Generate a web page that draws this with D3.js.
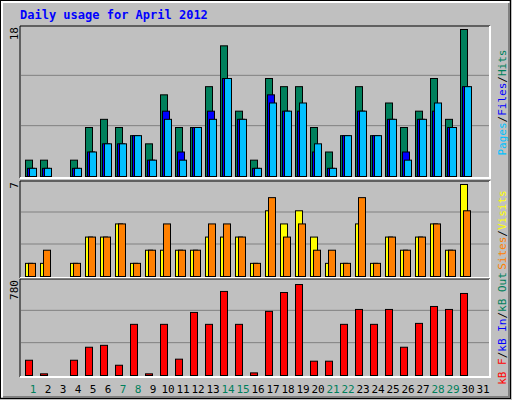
<!DOCTYPE html>
<html><head><meta charset="utf-8">
<script src="https://cdn.jsdelivr.net/npm/d3@7"></script>
<style>body{margin:0;background:#fff}</style>
</head><body>
<script>
// values
var days = d3.range(1, 32)
var weekend = [1, 7, 8, 14, 15, 21, 22, 28, 29]
var hits  = [2,2,0,2,6,7,6,5,4,10,6,6,11,16,8,2,12,11,11,6,3,5,11,5,9,6,8,12,7,18,0]
var files = [1,1,0,1,3,4,4,5,2,8,3,6,8,12,7,1,10,8,8,3,1,5,8,5,7,3,7,8,6,11,0]
var pages = [1,1,0,1,3,4,4,5,2,7,2,6,7,12,7,1,9,8,9,4,1,5,8,5,7,2,7,9,6,11,0]
var visits = [1,1,0,1,3,3,4,1,2,2,2,2,3,3,3,1,5,4,5,3,1,1,4,1,3,2,3,4,2,7,0]
var sites  = [1,2,0,1,3,3,4,1,2,4,2,2,4,4,3,1,6,3,4,2,2,1,6,1,3,2,3,4,2,5,0]
var kbytes = [128,14,0,128,237,253,86,429,14,429,137,529,429,705,429,22,538,696,763,120,120,429,554,429,554,237,437,579,554,688,0]

var svg = d3.select("body").append("svg").attr("width", 512).attr("height", 400)
  .style("font-family", "'DejaVu Sans Mono', monospace").style("font-size", "11px")

svg.append("rect").attr("width", 512).attr("height", 400).attr("fill", "#c0c0c0")
svg.append("rect").attr("x", 0.5).attr("y", 0.5).attr("width", 510).attr("height", 398)
   .attr("fill", "none").attr("stroke", "#000")
svg.append("path").attr("d", "M2,397V2H509").attr("fill", "none").attr("stroke", "#fff").attr("stroke-width", 2)
svg.append("path").attr("d", "M3,397H509V3").attr("fill", "none").attr("stroke", "#808080").attr("stroke-width", 2)

svg.append("text").attr("x", 20).attr("y", 19).attr("fill", "#0000ff")
   .attr("font-weight", "bold").attr("font-size", "12px").text("Daily usage for April 2012")

var x = d3.scaleLinear().domain([1, 31]).range([25, 475])

function panel(top, bottom, max, label, series, rightParts) {
  var y = d3.scaleLinear().domain([0, max]).range([bottom, top])
  var g = svg.append("g")
  // grid at thirds
  var ph = bottom - top + 4
  ;[1, 2].forEach(function(k) {
    g.append("line").attr("x1", 21).attr("x2", 490)
     .attr("y1", bottom - ph * k / 3).attr("y2", bottom - ph * k / 3)
     .attr("stroke", "#808080")
  })
  series.forEach(function(s) {
    g.selectAll(null).data(s.data).enter().append("rect")
     .attr("x", function(d, i) { return x(days[i]) + s.off + 0.5 })
     .attr("y", function(d) { return y(d) + 0.5 })
     .attr("width", s.w)
     .attr("height", function(d) { return bottom - y(d) })
     .attr("fill", s.color).attr("stroke", "#000")
     .style("display", function(d) { return d > 0 ? null : "none" })
  })
  // inset frame
  g.append("path").attr("d", "M20," + (bottom + 2) + "V" + (top - 3) + "H490")
   .attr("fill", "none").attr("stroke", "#000")
  g.append("path").attr("d", "M20," + (bottom + 2) + "H490V" + (top - 3))
   .attr("fill", "none").attr("stroke", "#fff").attr("stroke-width", 2)
  g.append("text").attr("transform", "translate(18," + (top - 2) + ") rotate(-90)")
   .attr("text-anchor", "end").attr("fill", "#000").text(label)
  var t = g.append("text").attr("transform", "translate(506," + ((top + bottom) / 2) + ") rotate(-90)")
   .attr("text-anchor", "middle")
  rightParts.forEach(function(p) { t.append("tspan").attr("fill", p[1]).text(p[0]) })
}

panel(29, 176, 18, "18", [
  { data: hits, color: "#00805c", off: 0, w: 7 },
  { data: files, color: "#0000ff", off: 2, w: 7 },
  { data: pages, color: "#00c0ff", off: 4, w: 7 }
], [["Pages", "#00c0ff"], ["/", "#000"], ["Files", "#0000ff"], ["/", "#000"], ["Hits", "#00805c"]])

panel(184, 276, 7, "7", [
  { data: visits, color: "#ffff00", off: 0, w: 7 },
  { data: sites, color: "#ff8000", off: 3, w: 7 }
], [["Sites", "#ff8000"], ["/", "#000"], ["Visits", "#ffff00"]])

panel(282, 375, 780, "780", [
  { data: kbytes, color: "#ff0000", off: 0, w: 7 }
], [["kB F", "#ff0000"], ["/", "#000"], ["kB In", "#0000ff"], ["/", "#000"], ["kB Out", "#00805c"]])

svg.selectAll(".day").data(days).enter().append("text")
   .attr("x", function(d) { return x(d) + 8 }).attr("y", 393)
   .attr("text-anchor", "middle")
   .attr("fill", function(d) { return weekend.indexOf(d) >= 0 ? "#00805c" : "#000" })
   .text(function(d) { return d })
</script>
</body></html>
